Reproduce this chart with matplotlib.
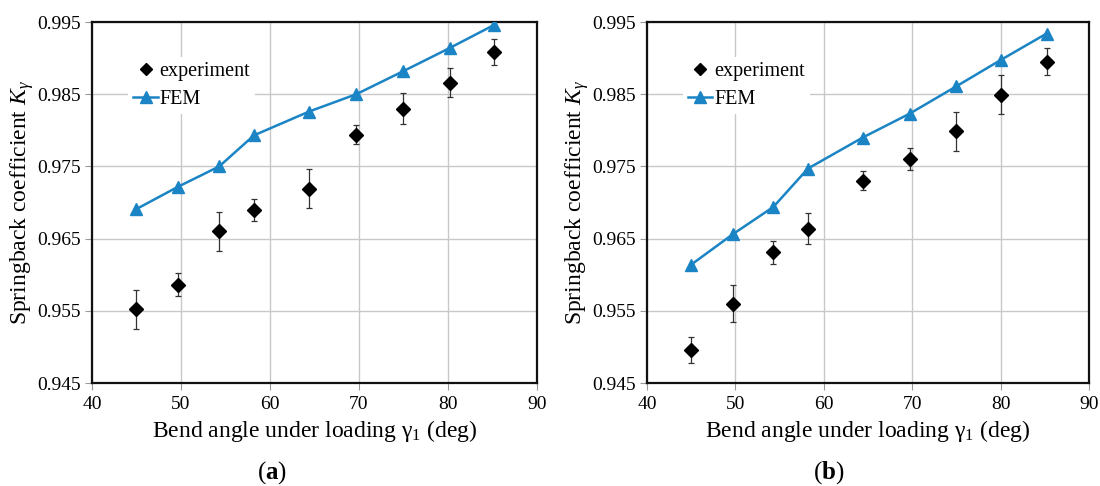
import matplotlib
matplotlib.use("Agg")
import matplotlib.pyplot as plt
from matplotlib.lines import Line2D

plt.rcParams['font.family'] = ['Liberation Serif', 'DejaVu Serif']
plt.rcParams['mathtext.fontset'] = 'custom'
plt.rcParams['mathtext.rm'] = 'Liberation Serif'
plt.rcParams['mathtext.it'] = 'Liberation Serif:italic'
plt.rcParams['mathtext.bf'] = 'Liberation Serif:bold'

# Data panel (a)
angle_a = [45.0, 49.7, 54.3, 58.2, 64.4, 69.7, 75.0, 80.2, 85.2]
fem_a = [0.9691, 0.9722, 0.9750, 0.9793, 0.9826, 0.9850, 0.9882, 0.9914, 0.9946]
exp_a = [0.9552, 0.9586, 0.9660, 0.9690, 0.9719, 0.9794, 0.9830, 0.9866, 0.9908]
err_a = [0.0027, 0.0016, 0.0027, 0.0015, 0.0027, 0.0013, 0.0021, 0.0020, 0.0018]

# Data panel (b)
angle_b = [45.0, 49.7, 54.3, 58.2, 64.4, 69.7, 75.0, 80.1, 85.2]
fem_b = [0.9614, 0.9656, 0.9694, 0.9747, 0.9790, 0.9823, 0.9861, 0.9898, 0.9934]
exp_b = [0.9496, 0.9560, 0.9631, 0.9664, 0.9730, 0.9760, 0.9799, 0.9849, 0.9895]
err_b = [0.0018, 0.0026, 0.0016, 0.0021, 0.0013, 0.0015, 0.0027, 0.0027, 0.0019]

xticks = [40, 50, 60, 70, 80, 90]
yticks = [0.945, 0.955, 0.965, 0.975, 0.985, 0.995]
ytick_labels = ['0.945', '0.955', '0.965', '0.975', '0.985', '0.995']
panel_labels = ['a', 'b']
panel_label_x = [0.247, 0.753]

blue = '#1a84c4'

fig = plt.figure(figsize=(11, 4.86), dpi=100)
axes_pos = [[0.0836, 0.2119, 0.4045, 0.7428], [0.5882, 0.2119, 0.4018, 0.7428]]

for pos, ang, fem, ex, er, lab, lx in zip(axes_pos, [angle_a, angle_b], [fem_a, fem_b],
                                          [exp_a, exp_b], [err_a, err_b], panel_labels,
                                          panel_label_x):
    ax = fig.add_axes(pos)
    ax.set_xlim(40, 90)
    ax.set_ylim(0.945, 0.995)
    ax.set_xticks(xticks)
    ax.set_yticks(yticks)
    ax.set_yticklabels(ytick_labels)
    ax.grid(True, color='#c8c8c8', linewidth=1.0)
    ax.set_axisbelow(True)
    for s in ax.spines.values():
        s.set_linewidth(1.6)
        s.set_color('#111111')
    ax.tick_params(axis='y', labelsize=14, length=5, color='#999999', width=0.8, pad=3)
    ax.tick_params(axis='x', labelsize=14, length=5, color='#999999', width=0.8, pad=4)
    ax.errorbar(ang, ex, yerr=er, fmt='D', color='black', markersize=7,
                ecolor='#333333', elinewidth=0.9, capsize=2.5, capthick=0.9,
                zorder=3)
    ax.plot(ang, fem, '-^', color=blue, linewidth=1.8, markersize=9, zorder=4)
    handles = [Line2D([], [], linestyle='none', marker='D', color='black', markersize=6.5),
               Line2D([], [], linestyle='-', marker='^', color=blue, linewidth=1.8, markersize=8)]
    leg = ax.legend(handles, ['experiment', 'FEM'], loc='upper left',
                    bbox_to_anchor=(0.082, 0.903),
                    frameon=True, fontsize=14.5, handlelength=1.2, handletextpad=0.1,
                    borderpad=0.25, labelspacing=0.45, borderaxespad=0.0)
    leg.get_frame().set_edgecolor('none')
    leg.get_frame().set_facecolor('white')
    leg.get_frame().set_alpha(1.0)
    leg.get_frame().set_boxstyle('square', pad=0.0)
    ax.set_xlabel(r'Bend angle under loading $\mathrm{\gamma}_1$ (deg)', fontsize=17, labelpad=4)
    ax.set_ylabel(r'Springback coefficient $K_\gamma$', fontsize=17, labelpad=1)
    fig.text(lx, 0.027, r'($\mathbf{' + lab + r'}$)', ha='center', va='center', fontsize=18)

fig.savefig('out.png', dpi=100)
